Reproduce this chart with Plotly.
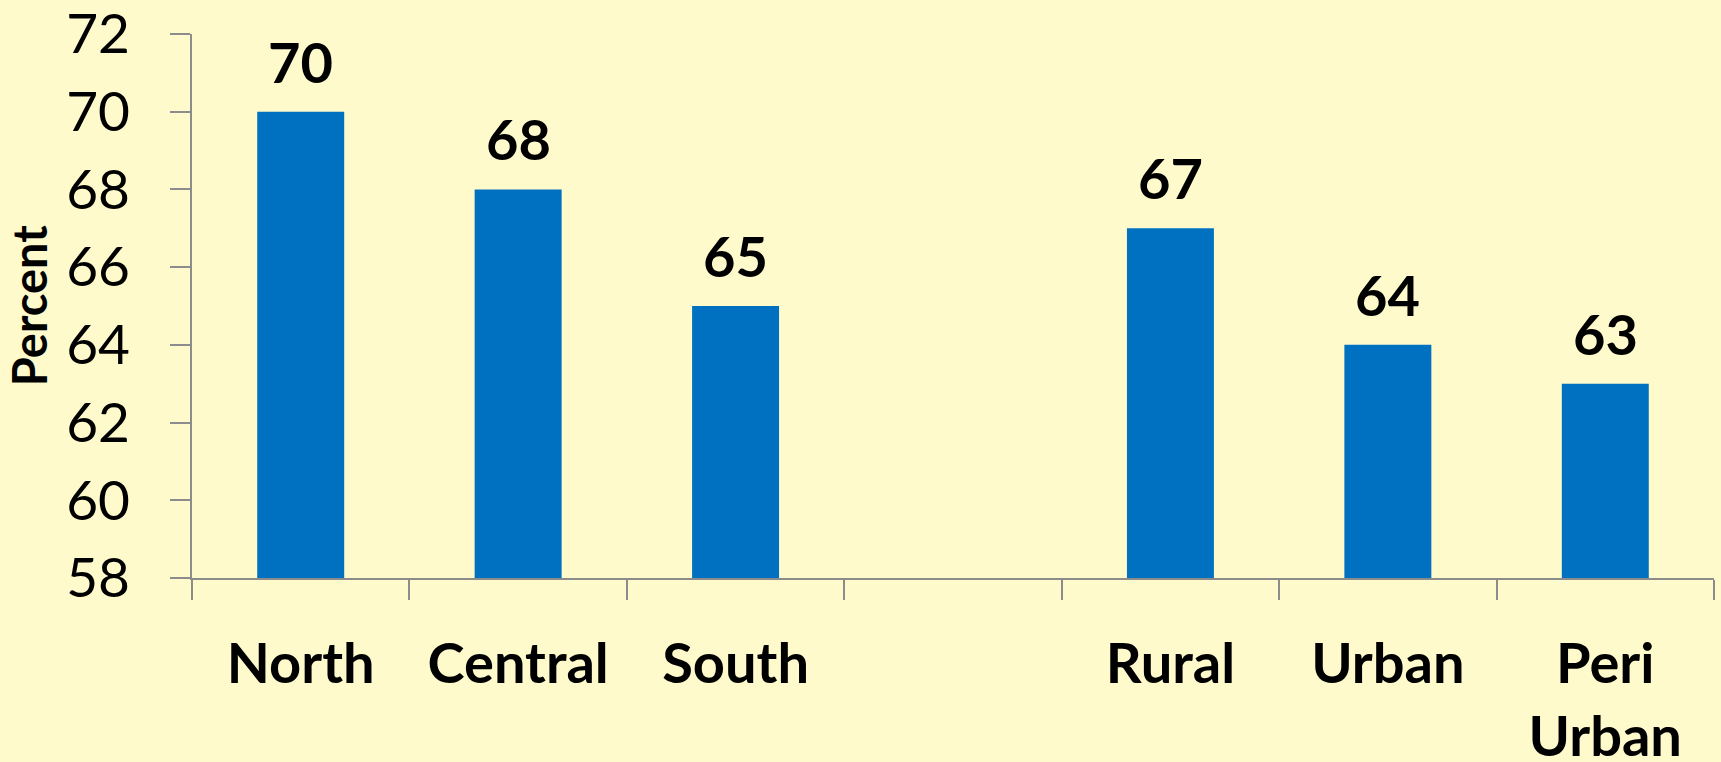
"""Bar chart: percent by region and residence type."""

import plotly.graph_objects as go

# Data
categories = ["North", "Central", "South", " ", "Rural", "Urban", "Peri<br>Urban"]
values = [70, 68, 65, None, 67, 64, 63]
y_ticks = [58, 60, 62, 64, 66, 68, 70, 72]

BAR_COLOR = "#0070C0"
BG_COLOR = "#FEFACB"
AXIS_COLOR = "#8C8C8C"
FONT = "Lato"

fig = go.Figure(go.Bar(
    x=categories,
    y=values,
    width=0.4,
    marker=dict(color=BAR_COLOR, line=dict(width=0)),
    hoverinfo="skip",
))

# Value labels above the bars
for cat, val in zip(categories, values):
    if val is None:
        continue
    fig.add_annotation(
        x=cat, y=val, text=f"<b>{val}</b>",
        showarrow=False, yanchor="bottom", yshift=15,
        font=dict(family=FONT, size=56, color="black"),
    )

# Axis title as rotated annotation
fig.add_annotation(
    text="<b>Percent</b>", textangle=-90,
    xref="paper", yref="paper", x=-0.107, y=0.5,
    xanchor="center", yanchor="middle", showarrow=False,
    font=dict(family=FONT, size=47, color="black"),
)

fig.update_layout(
    width=1721, height=762,
    paper_bgcolor=BG_COLOR,
    plot_bgcolor=BG_COLOR,
    margin=dict(l=192, r=7, t=34, b=184),
    showlegend=False,
    font=dict(family=FONT, color="black"),
    xaxis=dict(
        type="category",
        automargin=False,
        tickson="boundaries",
        ticks="outside", ticklen=20, tickwidth=2, tickcolor=AXIS_COLOR,
        showline=True, linecolor=AXIS_COLOR, linewidth=2,
        showgrid=False, zeroline=False,
        tickfont=dict(family=FONT, size=56, color="black", weight="bold"),
        ticklabelstandoff=36,
        ticklabeloverflow="allow",
    ),
    yaxis=dict(
        range=[58, 72],
        automargin=False,
        tickvals=y_ticks,
        ticks="outside", ticklen=20, tickwidth=2, tickcolor=AXIS_COLOR,
        showline=True, linecolor=AXIS_COLOR, linewidth=2,
        showgrid=False, zeroline=False,
        tickfont=dict(family=FONT, size=55, color="black"),
        ticklabelstandoff=29,
        ticklabeloverflow="allow",
    ),
)

# drop the default page margin so the figure sits at the window's corner
fig.write_html(
    "out.html",
    config={"displayModeBar": False},
    post_script="document.body.style.margin='0';document.body.style.overflow='hidden';",
)
